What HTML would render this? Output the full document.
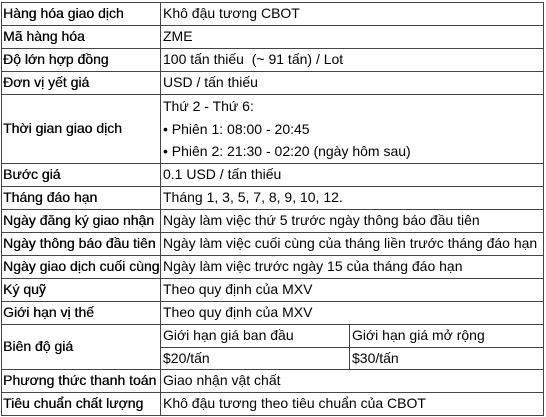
<!DOCTYPE html>
<html><head><meta charset="utf-8"><style>
html,body{margin:0;padding:0;background:#fff;width:546px;height:417px;overflow:hidden}
table{position:absolute;left:1px;top:2px;border-collapse:collapse;table-layout:fixed;width:542px;font-family:"Liberation Sans","DejaVu Sans",sans-serif;font-size:14px;color:#000}
td{border:1px solid #444;padding:0 0 0 2px;height:21.9px;line-height:21.9px;white-space:nowrap;overflow:hidden;vertical-align:middle}
td.l{padding-left:1px;text-shadow:0.3px 0 0 #000}
.ml div{height:22.9px;line-height:22.9px}
</style></head><body>
<table>
<colgroup><col style="width:159px"><col style="width:189px"><col style="width:194px"></colgroup>
<tr><td class="l">Hàng hóa giao dịch</td><td colspan="2">Khô đậu tương CBOT</td></tr>
<tr><td class="l">Mã hàng hóa</td><td colspan="2">ZME</td></tr>
<tr><td class="l">Độ lớn hợp đồng</td><td colspan="2">100 tấn thiếu&nbsp; (~ 91 tấn) / Lot</td></tr>
<tr><td class="l">Đơn vị yết giá</td><td colspan="2">USD / tấn thiếu</td></tr>
<tr><td class="l" style="height:67.7px">Thời gian giao dịch</td><td colspan="2" class="ml"><div>Thứ 2 - Thứ 6:</div><div>• Phiên 1: 08:00 - 20:45</div><div>• Phiên 2: 21:30 - 02:20 (ngày hôm sau)</div></td></tr>
<tr><td class="l">Bước giá</td><td colspan="2">0.1 USD / tấn thiếu</td></tr>
<tr><td class="l">Tháng đáo hạn</td><td colspan="2">Tháng 1, 3, 5, 7, 8, 9, 10, 12.</td></tr>
<tr><td class="l">Ngày đăng ký giao nhận</td><td colspan="2">Ngày làm việc thứ 5 trước ngày thông báo đầu tiên</td></tr>
<tr><td class="l">Ngày thông báo đầu tiên</td><td colspan="2">Ngày làm việc cuối cùng của tháng liền trước tháng đáo hạn</td></tr>
<tr><td class="l">Ngày giao dịch cuối cùng</td><td colspan="2">Ngày làm việc trước ngày 15 của tháng đáo hạn</td></tr>
<tr><td class="l">Ký quỹ</td><td colspan="2">Theo quy định của MXV</td></tr>
<tr><td class="l">Giới hạn vị thế</td><td colspan="2">Theo quy định của MXV</td></tr>
<tr><td class="l" rowspan="2">Biên độ giá</td><td>Giới hạn giá ban đầu</td><td>Giới hạn giá mở rộng</td></tr>
<tr><td>$20/tấn</td><td>$30/tấn</td></tr>
<tr><td class="l">Phương thức thanh toán</td><td colspan="2">Giao nhận vật chất</td></tr>
<tr><td class="l">Tiêu chuẩn chất lượng</td><td colspan="2">Khô đậu tương theo tiêu chuẩn của CBOT</td></tr>
</table>
</body></html>
